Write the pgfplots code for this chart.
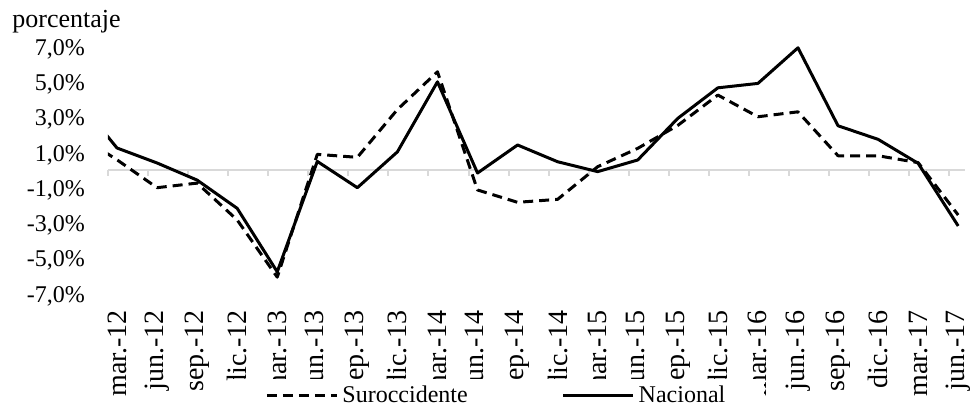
\documentclass[border=0pt]{standalone}
\usepackage{fontspec}
\setmainfont{Liberation Serif}
\usepackage{pgfplots}
\pgfplotsset{compat=1.18}
\begin{document}
\begin{tikzpicture}
% decoration axis: zero line with tick marks
\begin{axis}[
  at={(0,0)}, anchor=south west,
  scale only axis, width=428.5pt, height=123.5pt,
  xmin=-0.225, xmax=21.17, ymin=-7, ymax=7,
  axis x line*=middle, hide y axis,
  x axis line style={draw=black!15, line width=1pt},
  xtick={-0.225,0.775,...,20.8}, xticklabels={},
  xtick align=outside, major tick length=3pt,
  tick style={draw=black!15, line width=1pt},
  hide obscured x ticks=false,
]
\end{axis}
% data axis
\begin{axis}[
  at={(0,0)}, anchor=south west,
  scale only axis, width=428.5pt, height=123.5pt,
  xmin=-0.225, xmax=21.17, ymin=-7, ymax=7,
  axis x line*=bottom, axis y line*=left,
  axis line style={draw=none},
  tick style={draw=none}, major tick length=0pt,
  /pgf/number format/assume math mode=true,
  xtick={0,...,21},
  xticklabels={mar.-12,jun.-12,sep.-12,dic.-12,mar.-13,jun.-13,sep.-13,dic.-13,mar.-14,jun.-14,sep.-14,dic.-14,mar.-15,jun.-15,sep.-15,dic.-15,mar.-16,jun.-16,sep.-16,dic.-16,mar.-17,jun.-17},
  xticklabel style={font=\fontsize{14}{16}\selectfont, rotate=90, anchor=east},
  xticklabel shift=5pt,
  ytick={-7,-5,-3,-1,1,3,5,7},
  yticklabels={{-7,0\%},{-5,0\%},{-3,0\%},{-1,0\%},{1,0\%},{3,0\%},{5,0\%},{7,0\%}},
  yticklabel style={font=\fontsize{12}{14}\selectfont, anchor=base east, yshift=-4.6pt},
  yticklabel shift=8pt,
  clip=true,
  legend columns=2,
  legend style={at={(0.1424,-0.486)}, anchor=south west, draw=none, fill=white,
    font=\fontsize{12}{14}\selectfont, inner xsep=17.5pt, inner ysep=1.5pt,
    /tikz/every even column/.append style={column sep=45pt}},
  legend image code/.code={\draw[#1] (0pt,0pt) -- (35pt,0pt);},
]
\addplot[black, line width=1.5pt, dash pattern=on 5pt off 3pt, line join=round] coordinates {
(-1,2.0) (0,0.55) (1,-1.03) (2,-0.77) (3,-2.86) (4,-6.1) (5,0.86) (6,0.69) (7,3.4) (8,5.54) (9,-1.16) (10,-1.86) (11,-1.69) (12,0.16) (13,1.2) (14,2.5) (15,4.22) (16,2.99) (17,3.27) (18,0.78) (19,0.78) (20,0.39) (21,-2.58)
};
\addlegendentry{Suroccidente}
\addplot[black, line width=1.5pt, line join=round] coordinates {
(-1,4.0) (0,1.22) (1,0.37) (2,-0.6) (3,-2.2) (4,-5.8) (5,0.46) (6,-1.03) (7,1.0) (8,4.97) (9,-0.2) (10,1.39) (11,0.44) (12,-0.12) (13,0.54) (14,2.9) (15,4.63) (16,4.88) (17,6.9) (18,2.48) (19,1.71) (20,0.35) (21,-3.2)
};
\addlegendentry{Nacional\hspace{30pt}}
\end{axis}
\node[anchor=base west, inner sep=0pt, font=\fontsize{13}{15}\selectfont] at (-48pt,133pt) {porcentaje};
\pgfresetboundingbox
\path (-54pt,-58pt) rectangle (432.5pt,146.5pt);
\end{tikzpicture}
\end{document}
